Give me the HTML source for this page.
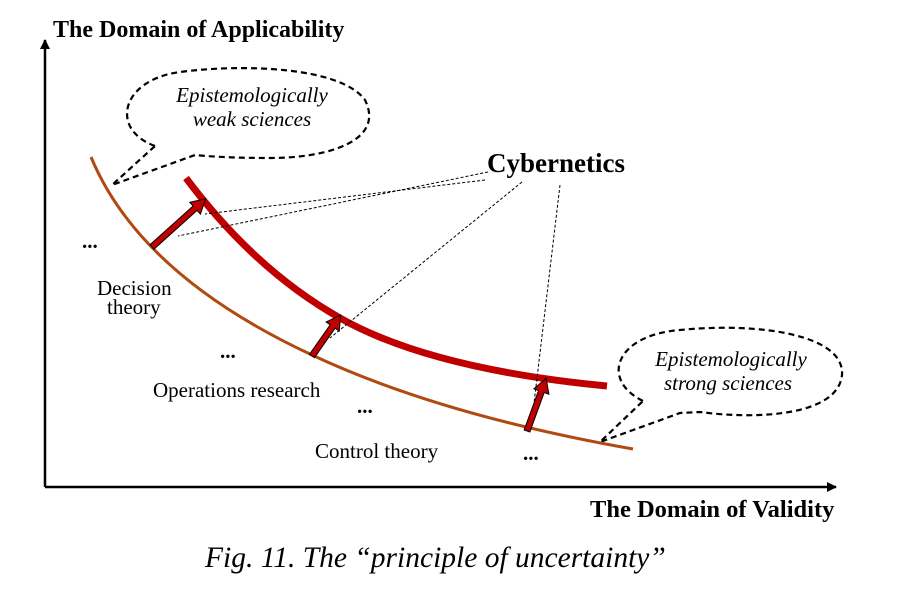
<!DOCTYPE html>
<html><head><style>body{margin:0;background:#fff}svg{display:block}</style></head><body>
<svg width="922" height="590" viewBox="0 0 922 590" xmlns="http://www.w3.org/2000/svg" font-family="Liberation Serif, serif">
<defs><marker id="ah" markerWidth="10" markerHeight="10" refX="9" refY="5" orient="auto" markerUnits="userSpaceOnUse"><path d="M0,0 L10,5 L0,10 z" fill="#000"/></marker></defs>
<line x1="45" y1="487" x2="45" y2="40" stroke="#000" stroke-width="2.5" marker-end="url(#ah)"/>
<line x1="45" y1="487" x2="836" y2="487" stroke="#000" stroke-width="2.5" marker-end="url(#ah)"/>
<text x="53" y="37" font-size="24" font-weight="bold">The Domain of Applicability</text>
<text x="590" y="517" font-size="24.5" font-weight="bold">The Domain of Validity</text>
<text x="205" y="567" font-size="29.5" font-style="italic">Fig. 11. The “principle of uncertainty”</text>
<!-- bubbles -->
<path d="M155,146 C110,130 120,80 180,72 C240,64 340,66 365,100 C385,140 330,158 270,158 C240,158 215,157 195,155 L112,185 L155,146" fill="none" stroke="#000" stroke-width="2.2" stroke-dasharray="6,4"/>
<text x="252" y="102" font-size="21" font-style="italic" text-anchor="middle">Epistemologically</text>
<text x="252" y="126" font-size="21" font-style="italic" text-anchor="middle">weak sciences</text>
<path d="M643,401 C600,380 615,335 680,330 C760,322 845,335 842,375 C838,415 760,420 700,412 L680,413 L600,442 L643,401" fill="none" stroke="#000" stroke-width="2.2" stroke-dasharray="6,4"/>
<text x="731" y="366" font-size="21" font-style="italic" text-anchor="middle">Epistemologically</text>
<text x="728" y="390" font-size="21" font-style="italic" text-anchor="middle">strong sciences</text>
<!-- curves -->
<path d="M91,157 Q140,275 312,355 Q440,415 633,449" fill="none" stroke="#b04a10" stroke-width="3"/>
<path d="M186,178 Q255,270 340,318 Q430,369 607,386" fill="none" stroke="#c00000" stroke-width="7"/>
<!-- dotted lines -->
<g stroke="#000" stroke-width="1" stroke-dasharray="3,2" fill="none">
<line x1="488" y1="172" x2="178" y2="236"/>
<line x1="485" y1="180" x2="205" y2="214"/>
<line x1="522" y1="182" x2="330" y2="338"/>
<line x1="560" y1="185" x2="532" y2="420"/>
</g>
<!-- arrows -->
<g fill="#c00000" stroke="#000" stroke-width="1" stroke-linejoin="miter">
<g transform="translate(152,247) rotate(-42)"><path d="M0,-3 L58,-3 L58,-8 L72,0 L58,8 L58,3 L0,3 z"/></g>
<g transform="translate(312,356) rotate(-55)"><path d="M0,-3 L36,-3 L36,-8 L50,0 L36,8 L36,3 L0,3 z"/></g>
<g transform="translate(527,431) rotate(-70)"><path d="M0,-3 L42,-3 L42,-8 L56,0 L42,8 L42,3 L0,3 z"/></g>
</g>
<text x="487" y="172" font-size="27" font-weight="bold">Cybernetics</text>
<g font-size="21">
<text x="97" y="295">Decision</text>
<text x="107" y="314">theory</text>
<text x="153" y="397">Operations research</text>
<text x="315" y="458">Control theory</text>
</g>
<g font-size="21" font-weight="bold">
<text x="82" y="248">...</text>
<text x="220" y="358">...</text>
<text x="357" y="413">...</text>
<text x="523" y="460">...</text>
</g>
</svg>
</body></html>
